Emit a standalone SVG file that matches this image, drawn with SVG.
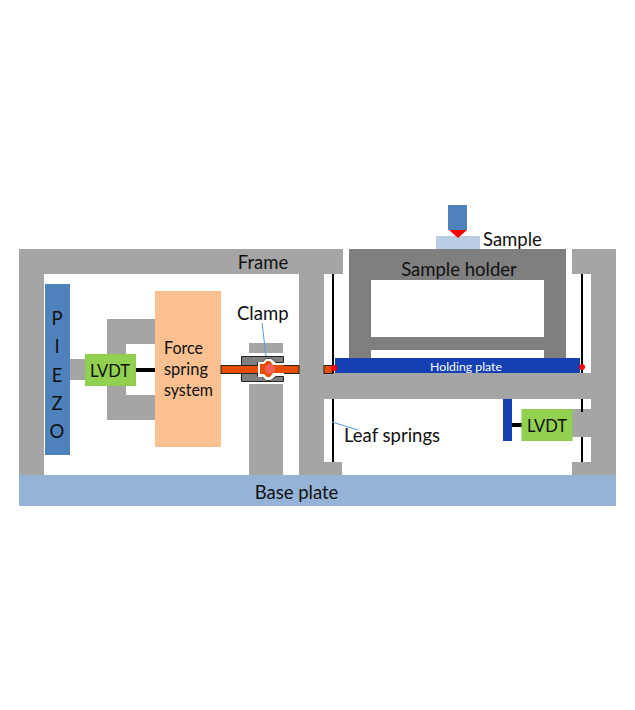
<svg xmlns="http://www.w3.org/2000/svg" width="635" height="710" viewBox="0 0 635 710">
<style>
.g{fill:#a5a5a5}
.t{font-family:Lato,"Open Sans","Liberation Sans",sans-serif;font-size:18.500px;fill:#111}
.n{font-size:17.500px}
.c{text-anchor:middle}
.s{stroke:#000;stroke-width:2;fill:none}
.lv{fill:#92d050;stroke:#8ccb4c;stroke-width:1}
.cal{stroke:#5b9bd5;stroke-width:1;fill:none}
.rod{fill:#e84c00;stroke:#222;stroke-width:1}
</style>
<rect width="635" height="710" fill="#fff"/>
<g id="frame">
<rect class="g" x="19" y="249" width="324" height="25"/>
<rect class="g" x="19" y="249" width="25" height="226"/>
<rect class="g" x="299" y="249" width="25" height="226"/>
<rect class="g" x="299" y="373" width="317" height="26"/>
<rect class="g" x="572" y="249" width="44" height="25"/>
<rect class="g" x="591" y="249" width="25" height="226"/>
<rect class="g" x="572" y="409" width="19" height="28"/>
<rect class="g" x="324" y="462" width="18" height="13"/>
<rect class="g" x="572" y="462" width="19" height="13"/>
<text class="t c" x="263" y="268.500">Frame</text>
</g>
<g id="clamp-blocks">
<rect class="g" x="249" y="343" width="34" height="10"/>
<rect class="g" x="249" y="384" width="34" height="91"/>
</g>
<g id="base-plate">
<rect x="19" y="475" width="597" height="31" fill="#95b3d7"/>
<text class="t c" x="296.500" y="499">Base plate</text>
</g>
<g id="piezo">
<rect x="45" y="284" width="25" height="171" fill="#4f81bd"/>
<g class="t c"><text x="57" y="325">P</text><text x="57" y="353">I</text><text x="57" y="382">E</text><text x="57" y="410">Z</text><text x="57" y="438">O</text></g>
</g>
<g id="force-bracket">
<path class="g" d="M70 359H107V319H155V344H126V395H155V420H107V380H70Z"/>
</g>
<g id="force-spring">
<rect x="155" y="291" width="66" height="156" fill="#fac090"/>
<text class="t n" x="164" y="354" textLength="39" lengthAdjust="spacingAndGlyphs">Force</text>
<text class="t n" x="164" y="375" textLength="44" lengthAdjust="spacingAndGlyphs">spring</text>
<text class="t n" x="164" y="396" textLength="49" lengthAdjust="spacingAndGlyphs">system</text>
</g>
<g id="lvdt-left">
<rect x="135" y="368" width="20" height="4" fill="#000"/>
<rect class="lv" x="85.500" y="354.500" width="50" height="31"/>
<text class="t n" x="90" y="376.500" textLength="40" lengthAdjust="spacingAndGlyphs">LVDT</text>
</g>
<g id="sample-holder">
<path fill="#7f7f7f" fill-rule="evenodd" d="M349 249H566V358H349ZM371 280V337H544V280ZM371 350V358H544V350Z"/>
<text class="t c" x="459" y="275.500">Sample holder</text>
</g>
<g id="holding-plate">
<rect x="335" y="358" width="245" height="15" fill="#1440b4"/>
<text x="466" y="371" font-family="Lato,'Open Sans',sans-serif" font-size="12.300" fill="#fff" text-anchor="middle">Holding plate</text>
</g>
<g id="sample">
<rect x="436" y="236" width="44" height="13" fill="#b9cde5"/>
<rect x="448" y="205" width="19" height="25" fill="#4f81bd"/>
<path d="M449 230H467L458 238Z" fill="#f00"/>
<text class="t" x="483" y="245.500">Sample</text>
</g>
<g id="rod">
<rect class="rod" x="283" y="365.500" width="16" height="8"/>
<rect class="rod" x="324" y="365.500" width="9" height="8"/>
</g>
<g id="clamp">
<path fill="#7f7f7f" stroke="#222" d="M241.500 356.500H283.500V362.500H276L271 359H266L262 362.500H257.500V376.500H262L266 380H271L276 376.500H283.500V381.500H241.500Z"/>
<rect class="rod" x="221" y="365.500" width="38" height="8"/>
<path fill="#fff" d="M258 362H263L266 359H271L275 362V364H284V374H275V376L271 380H266L263 377H258Z"/>
<path fill="#e84c00" d="M260 364H264L267 361H270L273 365H284V373H273L270 377H267L264 374H260Z"/>
<circle cx="270" cy="369" r="5" fill="#f0605a"/>
<text class="t" x="237" y="319.500">Clamp</text>
<path class="cal" d="M262 323L266 356"/>
</g>
<g id="leaf-springs">
<path class="s" d="M333 274V373M333 399V462M582 274V373M582 399V412M582 437V462"/>
<circle cx="334" cy="368" r="3" fill="#f00"/>
<circle cx="582" cy="367" r="3" fill="#f00"/>
<path class="cal" d="M332 422L358 430"/>
<text class="t" x="344" y="442">Leaf springs</text>
</g>
<g id="lvdt-right">
<rect x="503" y="399" width="9" height="42" fill="#1440b4"/>
<rect x="512" y="423" width="10" height="4" fill="#000"/>
<rect class="lv" x="522" y="409.500" width="50" height="31"/>
<text class="t n" x="527" y="432" textLength="40" lengthAdjust="spacingAndGlyphs">LVDT</text>
</g>
</svg>
